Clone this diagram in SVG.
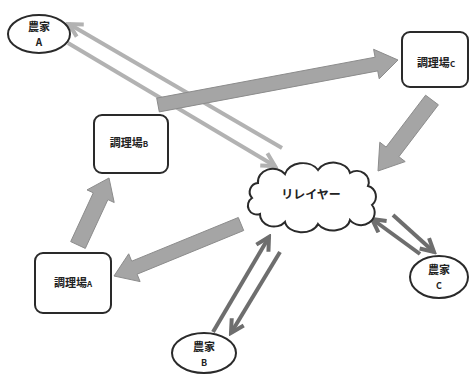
<svg xmlns="http://www.w3.org/2000/svg" width="472" height="374" viewBox="0 0 472 374">
<style>
.node{fill:#fff;stroke:#2a2a2a;stroke-width:2}
.t{font-family:"Noto Sans CJK JP","Noto Sans",sans-serif;font-weight:bold;fill:#222;text-anchor:middle}
.lt{fill:none;stroke:#b2b2b2;stroke-width:4}
.dk{fill:none;stroke:#6e6e6e;stroke-width:4}
.blk{fill:#a5a5a5;stroke:#8c8c8c;stroke-width:1}
</style>
<defs>
<marker id="mLt" viewBox="0 0 18 18" refX="15" refY="9" markerWidth="18" markerHeight="18" markerUnits="userSpaceOnUse" orient="auto">
<path d="M2,2 L15,9 L2,16" fill="none" stroke="#b2b2b2" stroke-width="4"/>
</marker>
<marker id="mDk" viewBox="0 0 18 18" refX="15" refY="9" markerWidth="18" markerHeight="18" markerUnits="userSpaceOnUse" orient="auto">
<path d="M2,2 L15,9 L2,16" fill="none" stroke="#6e6e6e" stroke-width="4"/>
</marker>
</defs>
<g id="connectors">
<line class="lt" x1="282" y1="148" x2="69" y2="24" marker-end="url(#mLt)"/>
<line class="lt" x1="68" y1="43" x2="275" y2="166" marker-end="url(#mLt)"/>
<line class="dk" x1="213" y1="332" x2="269" y2="237" marker-end="url(#mDk)"/>
<line class="dk" x1="280" y1="252" x2="231" y2="333" marker-end="url(#mDk)"/>
<line class="dk" x1="393" y1="215" x2="434" y2="252" marker-end="url(#mDk)"/>
<line class="dk" x1="420" y1="254" x2="372" y2="219" marker-end="url(#mDk)"/>
<polygon class="blk" points="156.7,98.1 375.1,57.2 373.6,49.3 398,60 379.2,78.8 377.7,70.9 159.3,111.9"/>
<polygon class="blk" points="425.6,95.2 386.1,147.1 379.8,142.2 378,171 405.2,161.6 398.9,156.7 438.4,104.8"/>
<polygon class="blk" points="70.7,241.6 93.3,192.8 87,189.9 109,178 114.2,202.5 107.9,199.6 85.3,248.4"/>
<polygon class="blk" points="238.3,217.5 131.7,261.2 128.7,253.8 114,276 140.1,281.6 137.1,274.2 243.7,230.5"/>
</g>
<g id="farmerA">
<ellipse class="node" cx="39" cy="34" rx="31" ry="19"/>
<text class="t" x="39" y="31" font-size="11">農家</text>
<text class="t" x="39" y="46" font-size="10" font-weight="normal">A</text>
</g>
<g id="kitchenC">
<rect class="node" x="402" y="32" width="66" height="55" rx="8"/>
<text class="t" x="436" y="67" font-size="11">調理場<tspan font-size="8">C</tspan></text>
</g>
<g id="kitchenB">
<rect class="node" x="94" y="115" width="74" height="58" rx="8"/>
<text class="t" x="129" y="147" font-size="11">調理場<tspan font-size="8">B</tspan></text>
</g>
<g id="relay">
<path class="node" d="M258,183 A15,13 0 0 1 285,174 A18,14 0 0 1 318,170 A17,13 0 0 1 350,173 A12,11 0 0 1 368,186 A11,11 0 0 1 372,205 A13,12 0 0 1 350,220 A17,12 0 0 1 318,224 A17,12 0 0 1 285,222 A14,12 0 0 1 260,214 A9,9 0 0 1 252,198 A9,9 0 0 1 258,183 Z"/>
<text class="t" x="311" y="199" font-size="12" font-weight="normal">リレイヤー</text>
</g>
<g id="kitchenA">
<rect class="node" x="35" y="253" width="76" height="60" rx="8"/>
<text class="t" x="73" y="287" font-size="11">調理場<tspan font-size="8">A</tspan></text>
</g>
<g id="farmerB">
<ellipse class="node" cx="204" cy="353" rx="32" ry="20"/>
<text class="t" x="204" y="351" font-size="11">農家</text>
<text class="t" x="204" y="366" font-size="9" font-weight="normal">B</text>
</g>
<g id="farmerC">
<ellipse class="node" cx="439" cy="277" rx="29" ry="21"/>
<text class="t" x="439" y="274" font-size="11">農家</text>
<text class="t" x="439" y="289" font-size="9" font-weight="normal">C</text>
</g>
</svg>
